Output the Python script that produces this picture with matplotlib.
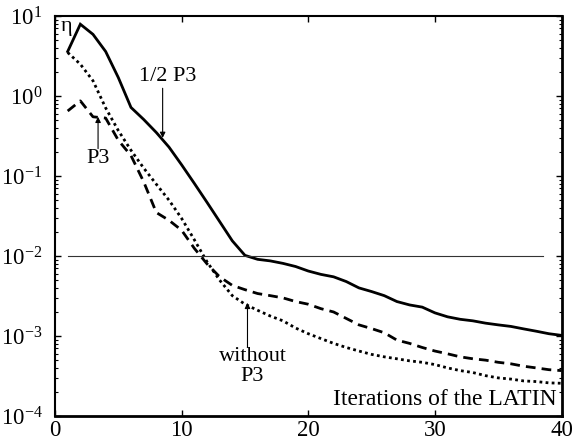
import numpy as np
import matplotlib
matplotlib.use('Agg')
import matplotlib.pyplot as plt
from matplotlib.ticker import LogLocator, NullFormatter

plt.rcParams['font.family'] = ['Liberation Serif', 'DejaVu Serif']
plt.rcParams['mathtext.fontset'] = 'stix'

# iterations of the LATIN method
iterations = list(range(1, 41))

# error indicator with 1/2 P3 (solid)
eta_half_p3 = [3.6, 7.9, 5.9, 3.6, 1.7, 0.72, 0.51, 0.35, 0.23, 0.138,
               0.081, 0.047, 0.027, 0.0155, 0.0102, 0.0091, 0.0087, 0.0081, 0.0074, 0.0065,
               0.0059, 0.0055, 0.0048, 0.0040, 0.0036, 0.0032, 0.0027, 0.00245, 0.0023, 0.00195,
               0.00174, 0.00162, 0.00155, 0.00145, 0.00138, 0.00132, 0.00123, 0.00115, 0.00107, 0.00102]

# error indicator with P3 (dashed)
eta_p3 = [0.65, 0.87, 0.55, 0.53, 0.28, 0.18, 0.085, 0.035, 0.028, 0.021,
          0.0125, 0.0080, 0.0055, 0.0043, 0.0038, 0.0034, 0.0032, 0.0030, 0.0027, 0.0025,
          0.0022, 0.0020, 0.00166, 0.00138, 0.00124, 0.0011, 0.00089, 0.00081, 0.00072, 0.00065,
          0.0006, 0.00055, 0.00052, 0.0005, 0.00047, 0.00045, 0.00042, 0.0004, 0.00038, 0.00037]

# error indicator without P3 (dotted)
eta_without_p3 = [3.5, 2.5, 1.55, 0.71, 0.37, 0.21, 0.126, 0.079, 0.050, 0.0295,
                  0.016, 0.0085, 0.005, 0.0032, 0.0025, 0.0021, 0.00178, 0.00155, 0.00126, 0.00107,
                  0.00093, 0.00081, 0.00072, 0.00065, 0.00059, 0.00055, 0.00052, 0.00049, 0.00047, 0.00044,
                  0.0004, 0.00037, 0.00035, 0.00032, 0.0003, 0.00029, 0.000275, 0.00027, 0.00026, 0.000257]

threshold = 1e-2

fig = plt.figure(figsize=(5.73, 4.45), dpi=100)
ax = fig.add_axes([0.096, 0.065, 0.884, 0.899])

ax.plot(iterations, eta_half_p3, color='black', lw=2.0, solid_joinstyle='miter')
ax.plot(iterations, eta_p3, color='black', lw=2.0, linestyle=(0, (3.5, 2.2)), dash_capstyle='butt')
ax.plot(iterations, eta_without_p3, color='black', lw=2.0, linestyle=(0, (1, 1.2)), dash_capstyle='butt')
ax.plot([1, 38.5], [threshold, threshold], color='#333333', lw=0.8)

ax.set_yscale('log')
ax.set_xlim(0, 40)
ax.set_ylim(1e-4, 1e1)
ax.set_xticks([0, 10, 20, 30, 40])
ax.yaxis.set_major_locator(LogLocator(base=10, numticks=10))
ax.yaxis.set_minor_locator(LogLocator(base=10, subs=np.arange(2, 10), numticks=10))
ax.yaxis.set_minor_formatter(NullFormatter())
ax.tick_params(which='both', direction='in', top=True, right=True, labelsize=16.5)
ax.tick_params(axis='x', pad=3)
ax.tick_params(axis='y', pad=9)
ax.tick_params(which='major', length=4, width=1)
ax.tick_params(which='minor', length=2, width=0.8)

for side in ['left', 'top']:
    ax.spines[side].set_linewidth(1.5)
for side in ['right', 'bottom']:
    ax.spines[side].set_linewidth(2.0)

arrow = dict(arrowstyle='-|>', color='black', lw=0.8, mutation_scale=8, shrinkA=0, shrinkB=0)
ax.text(0.45, 7.3, 'η', fontsize=16, ha='left', va='center')
ax.annotate('', xy=(8.5, 0.30), xytext=(8.5, 1.25), arrowprops=arrow)
ax.text(8.9, 1.75, '1/2 P3', fontsize=16, ha='center', va='center')
ax.annotate('', xy=(3.4, 0.55), xytext=(3.4, 0.22), arrowprops=arrow)
ax.text(3.4, 0.165, 'P3', fontsize=16, ha='center', va='center')
ax.annotate('', xy=(15.2, 0.0026), xytext=(15.2, 0.00072), arrowprops=arrow)
ax.text(15.6, 0.00042, 'without\nP3', fontsize=16, ha='center', va='center', linespacing=1.05)
ax.text(39.6, 1.2e-4, 'Iterations of the LATIN', fontsize=17, ha='right', va='bottom')

fig.savefig('out.png', dpi=100)
